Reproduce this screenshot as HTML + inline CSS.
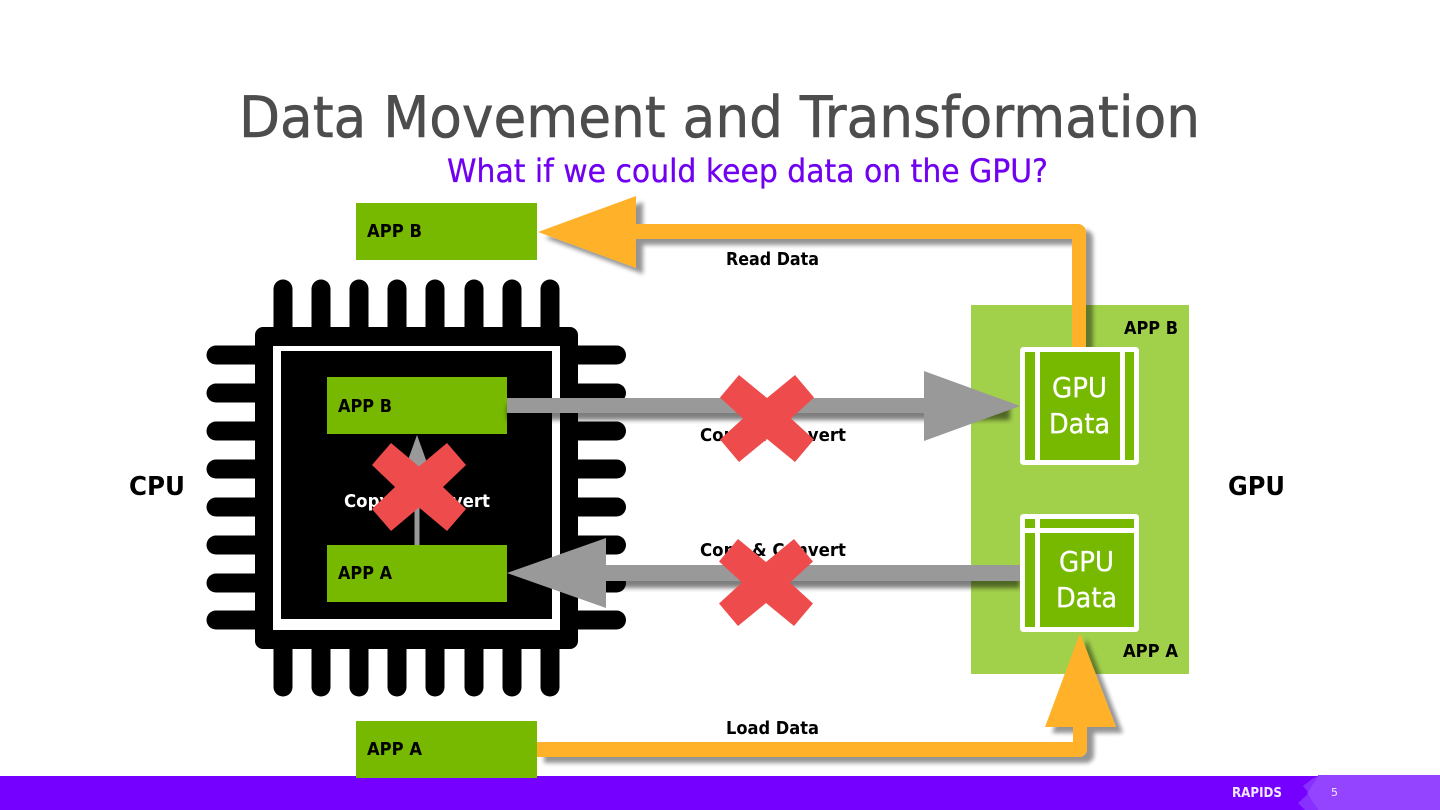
<!DOCTYPE html>
<html><head><meta charset="utf-8"><style>
html,body{margin:0;padding:0;background:#fff;width:1440px;height:810px;overflow:hidden}
svg{display:block}
text{font-family:"DejaVu Sans","Liberation Sans",sans-serif}
.b{font-weight:bold;font-size:18px;fill:#000}
</style></head><body>
<svg width="1440" height="810" viewBox="0 0 1440 810" xmlns="http://www.w3.org/2000/svg">
<defs>
<filter id="s" x="-20%" y="-40%" width="140%" height="180%"><feGaussianBlur in="SourceAlpha" stdDeviation="2"/><feOffset dx="7" dy="6"/><feComponentTransfer><feFuncA type="linear" slope="0.42"/></feComponentTransfer><feMerge><feMergeNode/><feMergeNode in="SourceGraphic"/></feMerge></filter>
<filter id="bl" x="-5%" y="-200%" width="110%" height="500%"><feGaussianBlur stdDeviation="2.500"/></filter>
</defs>
<!-- footer -->
<rect x="0" y="776" width="1440" height="34" fill="#7600ff"/>
<rect x="1318" y="775" width="122" height="35" fill="#9444ff"/>
<polygon points="1318,776 1307,793 1318,810" fill="#9444ff"/>
<polygon points="1312,779 1303,786 1309,793 1298,803 1305,810 1318,810 1307,793 1318,776" fill="#8730ff"/>
<text x="1232" y="797" font-size="13" font-weight="bold" fill="#f4eaff" textLength="50" lengthAdjust="spacingAndGlyphs">RAPIDS</text>
<text x="1331" y="796" font-size="11" fill="#f4eaff">5</text>
<!-- title -->
<text x="239" y="137" font-size="57" fill="#4d4d4d" stroke="#4d4d4d" stroke-width="0.6" textLength="961" lengthAdjust="spacingAndGlyphs">Data Movement and Transformation</text>
<text x="447" y="182" font-size="32" fill="#7000f0" stroke="#7000f0" stroke-width="0.3" textLength="601" lengthAdjust="spacingAndGlyphs">What if we could keep data on the GPU?</text>
<!-- chip -->
<g stroke="#000" stroke-width="19" stroke-linecap="round" fill="none">
<path d="M283 289V327M321 289V327M359 289V327M397 289V327M435 289V327M474 289V327M512 289V327M550 289V327"/>
<path d="M283 649V687M321 649V687M359 649V687M397 649V687M435 649V687M474 649V687M512 649V687M550 649V687"/>
<path d="M216 355H255M216 393H255M216 431H255M216 469H255M216 507H255M216 545H255M216 583H255M216 620H255"/>
<path d="M578 355H616.500M578 393H616.500M578 431H616.500M578 469H616.500M578 507H616.500M578 545H616.500M578 583H616.500M578 620H616.500"/>
</g>
<rect x="255" y="327" width="323" height="322" rx="8" fill="#000"/>
<rect x="273" y="346" width="287" height="284" fill="#fff"/>
<rect x="281" y="351" width="271" height="268" fill="#000"/>
<!-- GPU panel -->
<rect x="971" y="305" width="218" height="369" fill="#a1d04b"/>
<!-- inner boxes -->
<rect x="327" y="377" width="180" height="57" fill="#76b900"/>
<rect x="327" y="545" width="180" height="57" fill="#76b900"/>
<text class="b" x="338" y="412" textLength="54" lengthAdjust="spacingAndGlyphs">APP B</text>
<text class="b" x="338" y="579" textLength="54" lengthAdjust="spacingAndGlyphs">APP A</text>
<!-- vertical gray -->
<polygon points="417,435 430,471 419.500,471 419.500,545 414.500,545 414.500,471 404,471" fill="#999"/>
<text x="344" y="507" font-size="18" font-weight="bold" fill="#fff" textLength="146" lengthAdjust="spacingAndGlyphs">Copy &amp; Convert</text>
<!-- gray arrow shaft shadows -->
<rect x="507" y="405" width="503" height="15" fill="#000" opacity="0.5" filter="url(#bl)"/>
<rect x="600" y="572" width="420" height="16" fill="#000" opacity="0.5" filter="url(#bl)"/>
<!-- labels under gray arrows -->
<text class="b" x="700" y="441" textLength="146" lengthAdjust="spacingAndGlyphs">Copy &amp; Convert</text>
<text class="b" x="700" y="556" textLength="146" lengthAdjust="spacingAndGlyphs">Copy &amp; Convert</text>
<!-- gray arrows -->
<polygon points="507,398 924,398 924,371 1020,406 924,441 924,413 507,413" fill="#999"/>
<polygon points="1020,565 606,565 606,538 507,573 606,608 606,581 1020,581" fill="#999"/>
<!-- orange arrows -->
<g filter="url(#s)"><path d="M1086 347V232a8 8 0 0 0-8-8H636V196L538 232 636 268V239H1072V347Z" fill="#ffb12b"/></g>
<g filter="url(#s)"><path d="M537 742H1073V727H1045L1080 633 1116 727H1087V749a8 8 0 0 1-8 8H537Z" fill="#ffb12b"/></g>
<!-- outer app boxes -->
<rect x="356" y="203" width="181" height="57" fill="#76b900"/>
<rect x="356" y="721" width="181" height="57" fill="#76b900"/>
<text class="b" x="367" y="237" textLength="55" lengthAdjust="spacingAndGlyphs">APP B</text>
<text class="b" x="367" y="755" textLength="55" lengthAdjust="spacingAndGlyphs">APP A</text>
<!-- GPU boxes -->
<rect x="1022.500" y="349.500" width="114" height="113" rx="1" fill="#76b900" stroke="#fff" stroke-width="5"/>
<rect x="1035" y="350" width="5" height="113" fill="#fff"/>
<rect x="1120" y="350" width="5" height="113" fill="#fff"/>
<text x="1052" y="397" font-size="28" fill="#fff" stroke="#fff" stroke-width="0.3" textLength="55" lengthAdjust="spacingAndGlyphs">GPU</text>
<text x="1049" y="433" font-size="28" fill="#fff" stroke="#fff" stroke-width="0.3" textLength="61" lengthAdjust="spacingAndGlyphs">Data</text>
<rect x="1022.500" y="516.500" width="114" height="113" rx="1" fill="#76b900" stroke="#fff" stroke-width="5"/>
<rect x="1035" y="517" width="5" height="113" fill="#fff"/>
<rect x="1023" y="528" width="113" height="5" fill="#fff"/>
<text x="1059" y="571" font-size="28" fill="#fff" stroke="#fff" stroke-width="0.3" textLength="55" lengthAdjust="spacingAndGlyphs">GPU</text>
<text x="1056" y="607" font-size="28" fill="#fff" stroke="#fff" stroke-width="0.3" textLength="61" lengthAdjust="spacingAndGlyphs">Data</text>
<!-- other labels -->
<text class="b" x="1124" y="334" textLength="54" lengthAdjust="spacingAndGlyphs">APP B</text>
<text class="b" x="1123" y="657" textLength="55" lengthAdjust="spacingAndGlyphs">APP A</text>
<text class="b" x="726" y="265" textLength="93" lengthAdjust="spacingAndGlyphs">Read Data</text>
<text class="b" x="726" y="734" textLength="93" lengthAdjust="spacingAndGlyphs">Load Data</text>
<text x="129" y="495" font-size="26" font-weight="bold" fill="#000" textLength="56" lengthAdjust="spacingAndGlyphs">CPU</text>
<text x="1228" y="495" font-size="26" font-weight="bold" fill="#000" textLength="57" lengthAdjust="spacingAndGlyphs">GPU</text>
<!-- X marks -->
<g fill="#ee4c4c">
<polygon transform="translate(767,418.500)" points="-28,-43.500 0,-20.500 28,-43.500 47,-21 24,0 47,21 28,43.500 0,20.500 -28,43.500 -47,21 -24,0 -47,-21"/>
<polygon transform="translate(766,582.500)" points="-28,-43.500 0,-20.500 28,-43.500 47,-21 24,0 47,21 28,43.500 0,20.500 -28,43.500 -47,21 -24,0 -47,-21"/>
<polygon transform="translate(419,487)" points="-28,-44 0,-20.500 28,-44 47,-22 24,0 47,22 28,44 0,20.500 -28,44 -47,22 -24,0 -47,-22"/>
</g>
</svg>
</body></html>
